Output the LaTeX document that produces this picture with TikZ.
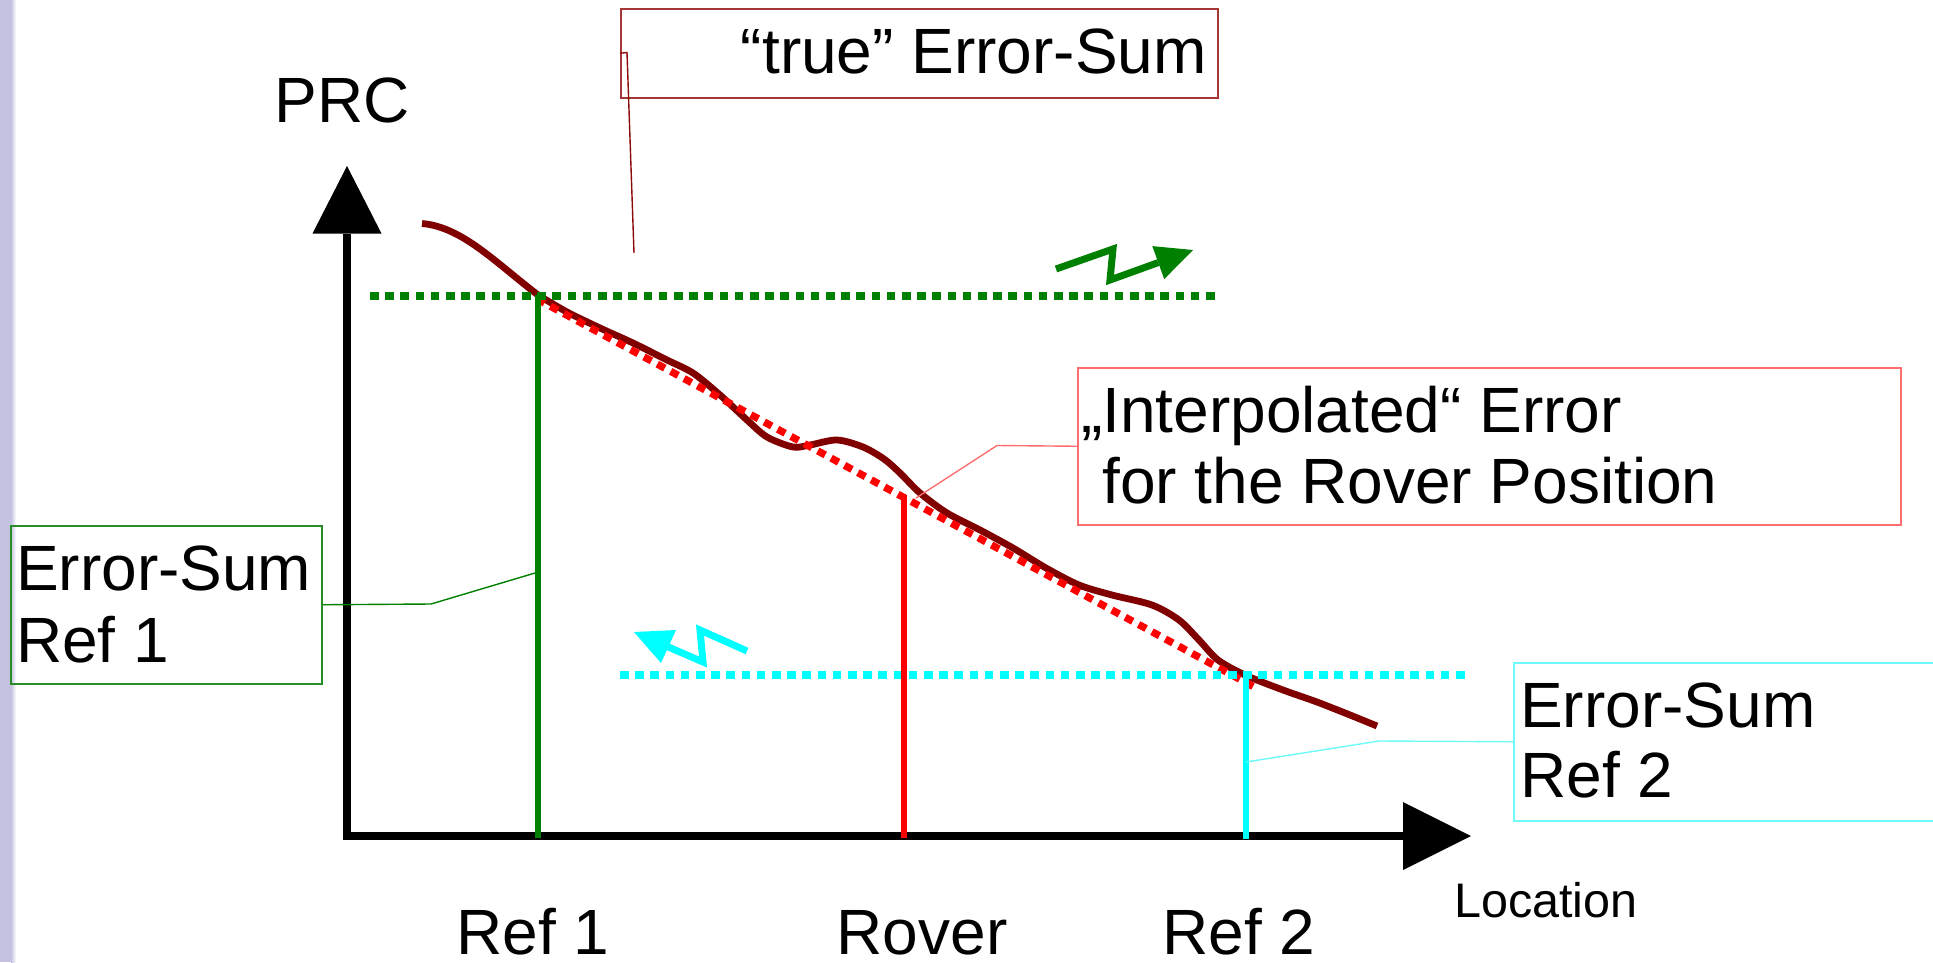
\documentclass[tikz,border=0pt]{standalone}
\usepackage{fontspec}
\setmainfont{Liberation Sans}
\definecolor{curvered}{RGB}{128,0,0}
\definecolor{refgreen}{RGB}{0,128,0}
\definecolor{refcyan}{RGB}{0,255,255}
\definecolor{roverred}{RGB}{255,0,0}
\definecolor{truebox}{RGB}{165,55,55}
\definecolor{trueleader}{RGB}{140,10,10}
\definecolor{interpbox}{RGB}{255,110,110}
\definecolor{greenbox}{RGB}{40,140,40}
\definecolor{cyanbox}{RGB}{110,250,250}
\definecolor{strip}{RGB}{195,195,225}
\begin{document}
\begin{tikzpicture}[x=1pt,y=-1pt,
  lbl/.style={inner sep=0pt, font=\fontsize{64}{72}\selectfont},
  smalllbl/.style={inner sep=0pt, font=\fontsize{48.5}{56}\selectfont},
  axisline/.style={line width=7.3pt, black},
  marker/.style={line width=6.8pt},
  dotline/.style={line width=7.3pt, dash pattern=on 8.5pt off 6.7pt},
  curve/.style={line width=6.8pt, draw=curvered},
  callbox/.style={draw, line width=1.5pt, inner sep=0pt, anchor=north west},
  leader/.style={line width=1.4pt},
  zig/.style={line width=7pt, line join=miter},
]
\useasboundingbox (0,0) rectangle (1933,962);

% slide edge strip
\fill[strip] (0,0) rectangle (11,962);
\shade[left color=strip, right color=white] (11,0) rectangle (16,962);

% axes
\coordinate (origin) at (347,836);
\coordinate (ybase) at (347,233.5);
\coordinate (ytip) at (347,166);
\coordinate (xbase) at (1403,836);
\coordinate (xtip) at (1471,836);
\draw[axisline] ([yshift=3.6pt]origin) -- (ybase);
\fill ([xshift=-34.5pt]ybase) -- ([xshift=34.5pt]ybase) -- (ytip) -- cycle;
\draw[axisline] ([xshift=-3.6pt]origin) -- (xbase);
\fill ([yshift=34pt]xbase) -- ([yshift=-34pt]xbase) -- (xtip) -- cycle;

% measured correction curve: smooth shoulder, then the sampled course
\draw[curve] (422,223.5) .. controls (462,227) and (495,262) .. (538,295)
  plot[smooth, tension=0.5] coordinates {
  (538,295) (567,312)
  (600,328) (633,343) (667,360) (693,373) (720,395) (747,420) (767,437)
  (793,447) (810,445) (837,440) (863,447) (884,459) (900,473) (920,493)
  (947,513) (980,530) (1013,548) (1046,568) (1079,585) (1112,595)
  (1152,605) (1179,620) (1199,640) (1218,660) (1245,675) (1283,690)
  (1317,702) (1350,715) (1377,726)};

% interpolated error between the references
\coordinate (interpA) at (537,299);
\coordinate (interpB) at (1256,688);
\draw[dotline, roverred] (interpA) -- (interpB);

% error-sum levels of the references
\coordinate (greenL) at (370,296);
\coordinate (greenR) at (1218,296);
\coordinate (cyanL) at (620,675);
\coordinate (cyanR) at (1469,675);
\draw[dotline, refgreen] (greenL) -- (greenR);
\draw[dotline, refcyan] (cyanL) -- (cyanR);

% position markers
\coordinate (ref1top) at (538,295);
\coordinate (ref1bot) at (538,838);
\coordinate (rovertop) at (904,495);
\coordinate (roverbot) at (904,838);
\coordinate (ref2top) at (1246,673);
\coordinate (ref2bot) at (1246,839);
\draw[marker, refgreen] (ref1top) -- (ref1bot);
\draw[marker, roverred] (rovertop) -- (roverbot);
\draw[marker, refcyan] (ref2top) -- (ref2bot);

% transmission symbols
\draw[zig, refgreen] (1056,269) -- (1113,249) -- (1110,280) -- (1158.2,262.6);
\fill[refgreen] (1193,250) -- (1164.2,279.1) -- (1152.3,246.1) -- cycle;
\draw[zig, refcyan] (747,651) -- (700,630) -- (703,662) -- (667.9,646.8);
\fill[refcyan] (634,632) -- (661,663) -- (676,630) -- cycle;

% axis labels
\node[lbl, anchor=base] (prc) at (342,122) {PRC};
\node[smalllbl, anchor=base west] (location) at (1454,917) {Location};
\node[lbl, anchor=base] (ref1lbl) at (533,954) {Ref 1};
\node[lbl, anchor=base] (roverlbl) at (922,954) {Rover};
\node[lbl, anchor=base] (ref2lbl) at (1239,954) {Ref 2};

% callout: true error sum
\node[callbox, draw=truebox, minimum width=597pt, minimum height=89pt] (truebx) at (620,8) {};
\node[lbl, anchor=base east] (truetxt) at (1207,73) {“true” Error-Sum};
\coordinate (trueknee) at (627,52.5);
\coordinate (trueend) at (634,253);
\draw[leader, trueleader] (truebx.west) -- (trueknee) -- (trueend);

% callout: interpolated error
\node[callbox, draw=interpbox, minimum width=823pt, minimum height=157pt] (interpbx) at (1077,367) {};
\node[lbl, anchor=base west] (interptxtA) at (1081,432) {„Interpolated“ Error};
\node[lbl, anchor=base west] (interptxtB) at (1102,503) {for the Rover Position};
\coordinate (interpknee) at (997,445.5);
\coordinate (interpend) at (916,498);
\draw[leader, interpbox] (interpbx.west) -- (interpknee) -- (interpend);

% callout: reference 1
\node[callbox, draw=greenbox, minimum width=311pt, minimum height=158pt] (ref1bx) at (10,525) {};
\node[lbl, anchor=base west] (ref1txtA) at (16,590) {Error-Sum};
\node[lbl, anchor=base west] (ref1txtB) at (16,662) {Ref 1};
\coordinate (ref1knee) at (431,604);
\coordinate (ref1end) at (535,573);
\draw[leader, refgreen] (ref1bx.east) -- (ref1knee) -- (ref1end);

% callout: reference 2
\node[callbox, draw=cyanbox, minimum width=480pt, minimum height=158pt] (ref2bx) at (1513,662) {};
\node[lbl, anchor=base west] (ref2txtA) at (1520,727) {Error-Sum};
\node[lbl, anchor=base west] (ref2txtB) at (1520,797) {Ref 2};
\coordinate (ref2knee) at (1379,741);
\coordinate (ref2end) at (1246,762);
\draw[leader, cyanbox] (ref2bx.west) -- (ref2knee) -- (ref2end);
\end{tikzpicture}
\end{document}
